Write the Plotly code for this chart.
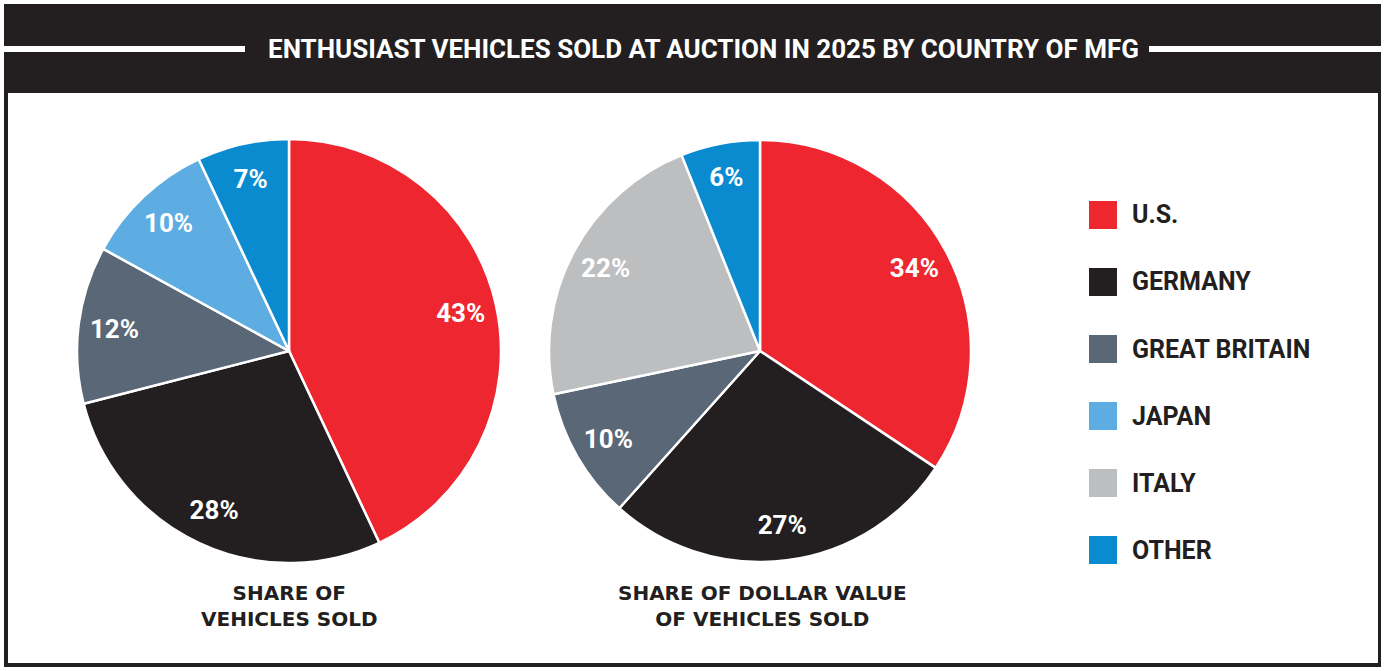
import plotly.graph_objects as go

W, H = 1385, 671

title_text = "ENTHUSIAST VEHICLES SOLD AT AUCTION IN 2025 BY COUNTRY OF MFG"

# Legend categories (order as shown)
legend_labels = ["U.S.", "GERMANY", "GREAT BRITAIN", "JAPAN", "ITALY", "OTHER"]
legend_colors = ["#ee2630", "#231f20", "#596776", "#5dade2", "#bcbec0", "#0a8bd0"]
color_map = dict(zip(legend_labels, legend_colors))

# Pie 1: share of vehicles sold
p1_labels = ["U.S.", "GERMANY", "GREAT BRITAIN", "JAPAN", "OTHER"]
p1_values = [43, 28, 12, 10, 7]
p1_title = "SHARE OF<br>VEHICLES SOLD"

# Pie 2: share of dollar value of vehicles sold
p2_labels = ["U.S.", "GERMANY", "GREAT BRITAIN", "ITALY", "OTHER"]
p2_values = [34, 27, 10, 22, 6]
p2_title = "SHARE OF DOLLAR VALUE<br>OF VEHICLES SOLD"

DARK = "#231f20"
COND = "Roboto, sans-serif"
WIDE = "DejaVu Sans, Verdana, sans-serif"


def px(x):
    return x / W


def py(y):
    return 1 - y / H


fig = go.Figure()

pies = [
    (p1_labels, p1_values, 289, 351, 212),
    (p2_labels, p2_values, 760, 351, 211),
]

for labels, values, cx, cy, r in pies:
    dom = dict(x=[px(cx - r), px(cx + r)], y=[py(cy + r), py(cy - r)])
    fig.add_trace(go.Pie(
        labels=labels, values=values, sort=False, direction="clockwise",
        rotation=0, domain=dom, textinfo="none",
        marker=dict(colors=[color_map[l] for l in labels],
                    line=dict(color="white", width=2.5)),
        showlegend=False, hoverinfo="label+value",
    ))
    # transparent ring that only carries the percentage labels
    fig.add_trace(go.Pie(
        labels=labels, values=values, sort=False, direction="clockwise",
        rotation=0, domain=dom, hole=0.66,
        text=[f"{v}%" for v in values], textinfo="text",
        textposition="inside", insidetextorientation="horizontal",
        textfont=dict(family=COND, size=26, color="white", weight="bold"),
        marker=dict(colors=["rgba(0,0,0,0)"] * len(labels),
                    line=dict(width=0)),
        showlegend=False, hoverinfo="skip",
    ))

shapes = [
    # dark frame + header
    dict(type="rect", xref="paper", yref="paper", x0=px(4), x1=px(1381),
         y0=py(667), y1=py(4), fillcolor=DARK, line=dict(width=0), layer="below"),
    # white panel
    dict(type="rect", xref="paper", yref="paper", x0=px(8), x1=px(1378),
         y0=py(663), y1=py(93), fillcolor="white", line=dict(width=0), layer="below"),
    # header white rules
    dict(type="rect", xref="paper", yref="paper", x0=px(4), x1=px(245),
         y0=py(52), y1=py(46), fillcolor="white", line=dict(width=0), layer="below"),
    dict(type="rect", xref="paper", yref="paper", x0=px(1149), x1=px(1381),
         y0=py(52), y1=py(46), fillcolor="white", line=dict(width=0), layer="below"),
]

annotations = [
    dict(text=title_text, xref="paper", yref="paper", x=px(703), y=py(49),
         xanchor="center", yanchor="middle", showarrow=False,
         bgcolor=DARK, borderpad=4,
         font=dict(family=COND, size=26, color="white", weight="bold")),
]

for txt, cx in ((p1_title, 289), (p2_title, 762)):
    annotations.append(dict(
        text=txt, xref="paper", yref="paper", x=px(cx), y=py(606),
        xanchor="center", yanchor="middle", showarrow=False, align="center",
        font=dict(family=WIDE, size=20, color=DARK, weight="bold")))

# manual legend
for i, (lab, col) in enumerate(zip(legend_labels, legend_colors)):
    yc = 215 + i * 67
    shapes.append(dict(type="rect", xref="paper", yref="paper",
                       x0=px(1089), x1=px(1117), y0=py(yc + 14), y1=py(yc - 14),
                       fillcolor=col, line=dict(width=0)))
    annotations.append(dict(text=lab, xref="paper", yref="paper", x=px(1130),
                            y=py(yc), xanchor="left", yanchor="middle",
                            showarrow=False,
                            font=dict(family=COND, size=25, color=DARK, weight="bold")))

fig.update_layout(
    width=W, height=H, margin=dict(l=0, r=0, t=0, b=0),
    paper_bgcolor="white", plot_bgcolor="white",
    shapes=shapes, annotations=annotations,
)

fig.write_html("out.html")
